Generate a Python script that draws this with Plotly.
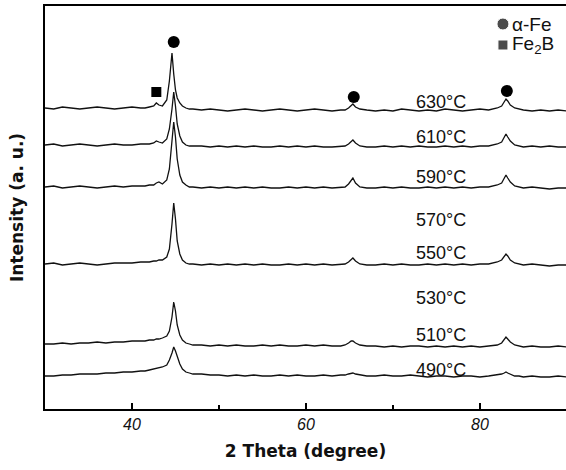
import plotly.graph_objects as go

# 2-theta grid shared by all patterns (denser around the reflections)
two_theta = [
    30, 31, 32, 33, 34, 35, 36, 37, 38, 39, 40, 41,
    41.5, 42, 42.5, 42.8, 43.1, 43.5, 44, 44.3, 44.6, 44.8, 45, 45.2, 45.5, 45.8, 46.2, 46.6, 47,
    48, 49, 50, 51, 52, 53, 54, 55, 56, 57, 58, 59, 60, 61, 62, 63, 64,
    64.5, 64.9, 65.2, 65.4, 65.7, 66.2, 67,
    68, 69, 70, 71, 72, 73, 74, 75, 76, 77, 78, 79, 80, 81, 82,
    82.5, 82.8, 83.0, 83.2, 83.5, 84, 84.5,
    85, 86, 87, 88, 89, 90,
]

# stacked intensities (a.u., offset included)
i_630 = [
    301, 300, 302, 301, 300, 301, 302, 301, 300, 301, 302, 301,
    301, 302, 303, 306, 304, 303, 309, 328, 356, 335, 319, 311, 306, 303, 301, 300, 300,
    299, 300, 299, 298, 299, 300, 299, 298, 299, 300, 299, 298, 299, 300, 299, 298, 299,
    299, 301, 304, 305, 302, 300, 299,
    298, 299, 298, 300, 299, 298, 299, 298, 300, 299, 298, 299, 300, 299, 301,
    303, 307, 310, 308, 304, 301, 300,
    299, 298, 299, 298, 299, 298,
]
i_610 = [
    264, 265, 263, 264, 265, 264, 263, 264, 265, 264, 264, 265,
    265, 265, 266, 268, 267, 266, 270, 280, 300, 317, 303, 285, 273, 267, 264, 263, 263,
    263, 262, 263, 262, 263, 262, 263, 262, 262, 263, 262, 263, 262, 263, 262, 262, 263,
    263, 265, 268, 269, 266, 263, 262,
    262, 263, 262, 263, 262, 263, 262, 262, 263, 262, 263, 262, 263, 263, 265,
    267, 271, 275, 272, 268, 264, 263,
    262, 263, 262, 263, 262, 262,
]
i_590 = [
    222, 223, 221, 222, 223, 222, 221, 222, 223, 222, 223, 223,
    223, 224, 224, 226, 227, 225, 229, 240, 268, 287, 272, 250, 234, 227, 224, 222, 222,
    221, 222, 221, 222, 221, 222, 221, 222, 221, 221, 222, 221, 222, 221, 222, 221, 222,
    222, 225, 229, 231, 226, 222, 221,
    221, 222, 221, 222, 221, 221, 222, 221, 222, 221, 222, 221, 222, 222, 224,
    226, 230, 234, 231, 227, 223, 222,
    221, 222, 221, 220, 221, 221,
]
i_550 = [
    145, 146, 144, 145, 146, 145, 144, 145, 146, 146, 146, 147,
    147, 147, 148, 148, 149, 149, 152, 160, 185, 206, 190, 168, 155, 149, 146, 145, 145,
    144, 145, 144, 145, 144, 145, 144, 145, 144, 144, 145, 144, 145, 144, 145, 144, 145,
    145, 147, 150, 151, 148, 145, 144,
    144, 145, 144, 145, 144, 144, 145, 144, 145, 144, 145, 144, 145, 145, 147,
    149, 152, 155, 153, 149, 146, 145,
    144, 145, 144, 143, 144, 144,
]
i_510 = [
    65, 65, 66, 65, 66, 66, 67, 66, 67, 67, 68, 68,
    68, 69, 69, 70, 70, 71, 73, 78, 92, 107, 98, 84, 74, 69, 66, 65, 64,
    64, 63, 64, 63, 64, 63, 63, 64, 63, 64, 63, 63, 64, 63, 64, 63, 63,
    64, 66, 68, 68, 66, 64, 63,
    63, 62, 63, 62, 63, 63, 62, 63, 62, 63, 62, 63, 62, 63, 64,
    66, 69, 72, 70, 67, 64, 63,
    62, 63, 62, 62, 63, 62,
]
i_490 = [
    33, 33, 34, 34, 35, 35, 35, 36, 36, 37, 37, 38,
    38, 39, 40, 40, 41, 42, 44, 49, 56, 62, 58, 52, 45, 40, 37, 36, 35,
    35, 34, 34, 33, 34, 33, 34, 33, 33, 34, 33, 34, 33, 33, 34, 33, 34,
    34, 35, 36, 36, 35, 34, 33,
    33, 34, 33, 33, 34, 33, 32, 33, 33, 32, 33, 33, 32, 33, 34,
    35, 36, 37, 36, 35, 33, 33,
    32, 33, 32, 32, 33, 32,
]
patterns = [i_630, i_610, i_590, i_550, i_510, i_490]

# temperature labels and their heights
temp_labels = ["630°C", "610°C", "590°C", "570°C", "550°C", "530°C", "510°C", "490°C"]
temp_label_y = [307, 272, 232, 189, 156, 111, 74, 39]
temp_label_x = 75.5

# phase markers
fe_x = [44.8, 65.5, 83.1]
fe_y = [367, 312, 318]
fe2b_x = [42.8]
fe2b_y = [317]

# key in the corner
key_x = 82.65
key_y = [385, 364]
key_text = ["α-Fe", "Fe<sub>2</sub>B"]

fig = go.Figure()

for p in patterns:
    fig.add_trace(go.Scatter(x=two_theta, y=p, mode="lines",
                             line=dict(color="#111111", width=1.3), showlegend=False))

fig.add_trace(go.Scatter(x=fe_x, y=fe_y, mode="markers", showlegend=False,
                         marker=dict(symbol="circle", size=12, color="black")))
fig.add_trace(go.Scatter(x=fe2b_x, y=fe2b_y, mode="markers", showlegend=False,
                         marker=dict(symbol="square", size=10, color="black")))
fig.add_trace(go.Scatter(x=[key_x, key_x], y=key_y, mode="markers", showlegend=False,
                         marker=dict(symbol=["circle", "square"], size=[12, 10], color="black")))

for t, ty in zip(temp_labels, temp_label_y):
    fig.add_annotation(x=temp_label_x, y=ty, text=t, showarrow=False,
                       font=dict(family="Liberation Sans, Arial", size=18, color="#111"))

for t, ky in zip(key_text, key_y):
    fig.add_annotation(x=key_x + 0.85, y=ky, text=t, showarrow=False, xanchor="left",
                       font=dict(family="Liberation Sans, Arial", size=19, color="#111"))

fig.update_layout(
    width=566, height=470,
    margin=dict(l=45, r=0, t=6, b=61),
    paper_bgcolor="white", plot_bgcolor="white",
    xaxis=dict(
        range=[30, 89.9], showgrid=False, zeroline=False,
        showline=True, linecolor="black", linewidth=2, mirror=True,
        ticks="inside", ticklen=6, tickwidth=1.5, tickcolor="black",
        tickvals=[40, 60, 80],
        minor=dict(tickvals=[50, 70], ticks="inside", ticklen=4, tickwidth=1.5, tickcolor="black"),
        tickfont=dict(family="Liberation Sans, Arial", size=16, color="#111", style="italic"),
        title=dict(text="2 Theta (degree)", standoff=13,
                   font=dict(family="DejaVu Sans", size=17, color="#111", weight="bold")),
    ),
    yaxis=dict(
        range=[0, 403], showgrid=False, zeroline=False,
        showline=True, linecolor="black", linewidth=2,
        showticklabels=False, ticks="",
        title=dict(text="Intensity (a. u.)", standoff=15,
                   font=dict(family="DejaVu Sans", size=17, color="#111", weight="bold")),
    ),
)

# drop the default page margin so the figure sits at the window's corner
fig.write_html("out.html", config={"displayModeBar": False},
               post_script="document.body.style.margin='0';")
